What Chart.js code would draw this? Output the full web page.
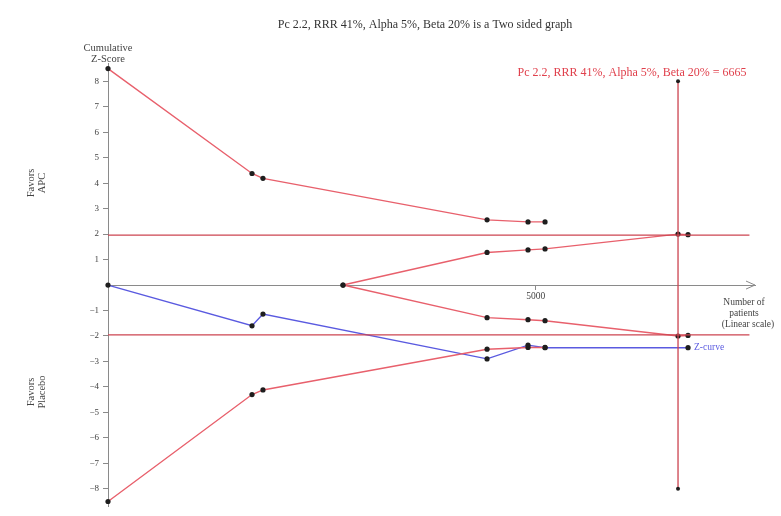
<!DOCTYPE html>
<html>
<head>
<meta charset="utf-8">
<script src="https://cdn.jsdelivr.net/npm/chart.js@4/dist/chart.umd.min.js"></script>
<style>
  html, body { margin: 0; padding: 0; background: #ffffff; }
  #wrap { width: 781px; height: 516px; }
</style>
</head>
<body>
<div id="wrap"><canvas id="tsa" width="781" height="516"></canvas></div>
<script>
// Cumulative number of patients at each trial (x) and the plotted series (y, Z-scores)
const zCurveX = [0, 1684, 1812, 4432, 4911, 5110, 6782];
const zCurveY = [0, -1.6, -1.14, -2.9, -2.36, -2.46, -2.46];

const boundaryX = [0, 1684, 1812, 4432, 4911, 5110];
const upperBoundaryY = [8.5, 4.38, 4.19, 2.56, 2.48, 2.48];
const lowerBoundaryY = [-8.5, -4.3, -4.12, -2.52, -2.45, -2.45];

const futilityX = [2748, 4432, 4911, 5110, 6665, 6782];
const upperFutilityY = [0, 1.28, 1.38, 1.42, 2.0, 1.98];
const lowerFutilityY = [0, -1.28, -1.36, -1.4, -2.0, -1.98];

const conventionalZ = 1.96;          // two-sided 5% significance line
const conventionalEndX = 7500;
const requiredInfoSize = 6665;       // required information size (patients)
const risSpanY = [8, -8];

const xTickValues = [5000];
const yTickValues = [-8, -7, -6, -5, -4, -3, -2, -1, 1, 2, 3, 4, 5, 6, 7, 8];

const toPoints = (xs, ys) => xs.map((x, i) => ({ x: x, y: ys[i] }));

const RED = '#e8606c';
const DARK_RED = '#cc4450';
const BLUE = '#5a5ae0';
const DOT = '#1e1e1e';
const SERIF = '"Liberation Serif", "DejaVu Serif", serif';

function series(data, color, width, radius) {
  return {
    data: data,
    showLine: true,
    clip: false,
    borderColor: color,
    borderWidth: width,
    pointRadius: radius,
    pointBackgroundColor: DOT,
    pointBorderWidth: 0,
    pointHoverRadius: radius,
    tension: 0
  };
}

// Text annotations and axis arrow
const annotations = {
  id: 'annotations',
  afterDraw(chart) {
    const ctx = chart.ctx;
    const xs = chart.scales.x;
    const ys = chart.scales.y;
    const y0 = ys.getPixelForValue(0);
    ctx.save();

    // arrow head at the end of the patient axis
    ctx.strokeStyle = '#8a8a8a';
    ctx.lineWidth = 1;
    ctx.beginPath();
    ctx.moveTo(xs.right - 9, y0 - 4);
    ctx.lineTo(xs.right, y0);
    ctx.lineTo(xs.right - 9, y0 + 4);
    ctx.stroke();

    ctx.fillStyle = '#333';
    ctx.textBaseline = 'middle';
    ctx.textAlign = 'center';
    ctx.font = '12px ' + SERIF;
    ctx.fillText('Pc 2.2, RRR 41%, Alpha 5%, Beta 20% is a Two sided graph', 425, 25);

    ctx.font = '10.5px ' + SERIF;
    ctx.fillStyle = '#444';
    ctx.fillText('Cumulative', ys.right, 48);
    ctx.fillText('Z-Score', ys.right, 59);

    ctx.font = '9.5px ' + SERIF;
    ctx.fillText('Number of', 744, 302);
    ctx.fillText('patients', 744, 313);
    ctx.fillText('(Linear scale)', 748, 324);

    // side labels, rotated
    ctx.font = '10.5px ' + SERIF;
    const side = (lines, cx, cy) => {
      ctx.save();
      ctx.translate(cx, cy);
      ctx.rotate(-Math.PI / 2);
      lines.forEach((t, i) => ctx.fillText(t, 0, i * 11));
      ctx.restore();
    };
    side(['Favors', 'APC'], 31, 183);
    side(['Favors', 'Placebo'], 31, 392);

    ctx.font = '9.5px ' + SERIF;
    ctx.textAlign = 'left';
    ctx.fillStyle = BLUE;
    ctx.fillText('Z-curve', xs.getPixelForValue(zCurveX[zCurveX.length - 1]) + 6,
                 ys.getPixelForValue(zCurveY[zCurveY.length - 1]));

    ctx.textAlign = 'center';
    ctx.fillStyle = '#e0404c';
    ctx.font = '12px ' + SERIF;
    ctx.fillText('Pc 2.2, RRR 41%, Alpha 5%, Beta 20% = ' + requiredInfoSize, 632, 73);

    ctx.restore();
  }
};

new Chart(document.getElementById('tsa'), {
  type: 'scatter',
  data: {
    datasets: [
      series([{ x: 0, y: conventionalZ }, { x: conventionalEndX, y: conventionalZ }], DARK_RED, 1.3, 0),
      series([{ x: 0, y: -conventionalZ }, { x: conventionalEndX, y: -conventionalZ }], DARK_RED, 1.3, 0),
      series(risSpanY.map(v => ({ x: requiredInfoSize, y: v })), DARK_RED, 1.3, 2),
      series(toPoints(boundaryX, upperBoundaryY), RED, 1.4, 2.6),
      series(toPoints(boundaryX, lowerBoundaryY), RED, 1.4, 2.6),
      series(toPoints(futilityX, upperFutilityY), RED, 1.4, 2.6),
      series(toPoints(futilityX, lowerFutilityY), RED, 1.4, 2.6),
      series(toPoints(zCurveX, zCurveY), BLUE, 1.4, 2.6)
    ]
  },
  options: {
    responsive: false,
    animation: false,
    events: [],
    layout: { padding: { left: 0, right: 26, top: 63.5, bottom: 3.6 } },
    plugins: { legend: { display: false }, tooltip: { enabled: false } },
    scales: {
      x: {
        type: 'linear',
        position: { y: 0 },
        min: 0,
        max: 7565,
        afterBuildTicks: s => { s.ticks = xTickValues.map(v => ({ value: v })); },
        ticks: {
          callback: v => String(v),
          color: '#444',
          font: { family: SERIF, size: 9.5 },
          padding: 2,
          maxRotation: 0
        },
        grid: { drawOnChartArea: false, tickLength: 4, color: '#8a8a8a' },
        border: { color: '#8a8a8a', width: 1 }
      },
      y: {
        type: 'linear',
        position: 'left',
        min: -8.7,
        max: 8.7,
        afterBuildTicks: s => { s.ticks = yTickValues.map(v => ({ value: v })); },
        afterFit: s => { s.width = 108; },
        ticks: {
          callback: v => String(v).replace('-', '\u2212'),
          color: '#444',
          font: { family: SERIF, size: 9 },
          padding: 4
        },
        grid: { drawOnChartArea: false, tickLength: 5, color: '#8a8a8a' },
        border: { color: '#8a8a8a', width: 1 }
      }
    }
  },
  plugins: [annotations]
});
</script>
</body>
</html>
